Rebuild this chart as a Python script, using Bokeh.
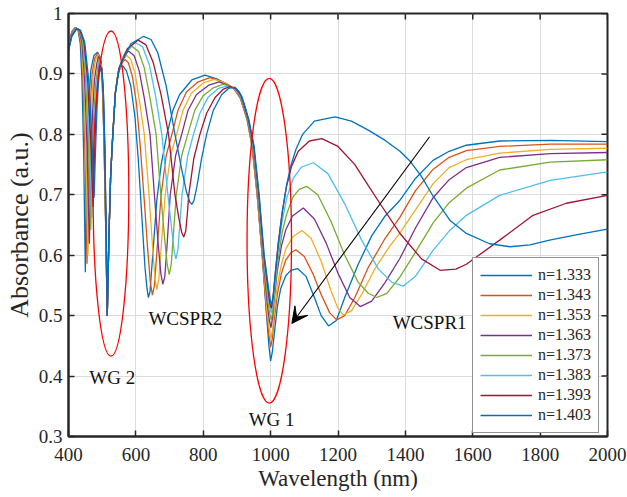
from bokeh.plotting import figure
from bokeh.models import Range1d, FixedTicker, Arrow, VeeHead, Legend, LegendItem
from bokeh.core.properties import value
from bokeh.embed import file_html
from bokeh.resources import INLINE

# ---- absorbance spectra, (wavelength nm, absorbance) per refractive index ----
labels = ["n=1.333", "n=1.343", "n=1.353", "n=1.363",
          "n=1.373", "n=1.383", "n=1.393", "n=1.403"]

pts_1333 = [(400,0.952),(410,0.970),(420,0.977),(428,0.973),(435,0.950),(440,0.890),(445,0.770),(450,0.572),
            (454,0.720),(459,0.840),(466,0.905),(475,0.930),(486,0.936),(494,0.928),(500,0.890),(505,0.800),
            (510,0.660),(515,0.500),(520,0.630),(525,0.730),(530,0.785),(539,0.868),(547,0.900),(555,0.912),
            (562,0.913),(572,0.905),(585,0.880),(597,0.830),(607,0.760),(617,0.670),(627,0.580),(633,0.545),
            (637,0.530),(642,0.540),(650,0.600),(662,0.690),(675,0.750),(692,0.800),(710,0.840),(730,0.866),
            (766,0.890),(805,0.898),(840,0.892),(870,0.883),(890,0.876),(910,0.860),(930,0.825),(945,0.780),
            (960,0.700),(975,0.600),(988,0.500),(995,0.450),(1000,0.425),(1005,0.440),(1010,0.465),(1020,0.515),
            (1030,0.545),(1045,0.566),(1060,0.575),(1080,0.578),(1105,0.565),(1130,0.530),(1150,0.500),(1172,0.483),
            (1195,0.492),(1220,0.530),(1260,0.585),(1300,0.632),(1340,0.665),(1384,0.691),(1430,0.727),(1482,0.757),
            (1530,0.772),(1581,0.782),(1680,0.789),(1830,0.790),(2000,0.788)]

pts_1343 = [(400,0.950),(410,0.969),(421,0.977),(429,0.973),(437,0.950),(443,0.890),(449,0.770),(455,0.586),
            (459,0.720),(464,0.840),(470,0.900),(478,0.926),(487,0.934),(495,0.925),(500,0.890),(505,0.800),
            (510,0.660),(515,0.500),(520,0.630),(525,0.730),(530,0.785),(539,0.868),(547,0.900),(556,0.916),
            (568,0.924),(578,0.918),(590,0.895),(602,0.850),(613,0.780),(625,0.690),(635,0.610),(643,0.555),
            (649,0.534),(655,0.550),(663,0.610),(675,0.700),(690,0.765),(707,0.800),(725,0.840),(750,0.870),
            (785,0.887),(820,0.894),(850,0.889),(875,0.882),(892,0.876),(910,0.860),(930,0.825),(945,0.780),
            (960,0.700),(975,0.600),(988,0.505),(995,0.468),(1000,0.448),(1005,0.462),(1010,0.490),(1020,0.535),
            (1032,0.570),(1045,0.592),(1060,0.604),(1075,0.609),(1100,0.598),(1125,0.570),(1150,0.535),(1175,0.505),
            (1196,0.493),(1220,0.500),(1250,0.530),(1290,0.580),(1340,0.628),(1384,0.663),(1430,0.707),(1482,0.742),
            (1530,0.762),(1581,0.773),(1680,0.780),(1830,0.784),(2000,0.784)]

pts_1353 = [(400,0.948),(410,0.968),(421,0.976),(430,0.973),(438,0.952),(445,0.890),(451,0.780),(458,0.600),
            (462,0.720),(467,0.830),(473,0.895),(480,0.922),(488,0.932),(496,0.922),(501,0.885),(506,0.800),
            (510,0.670),(515,0.500),(520,0.630),(525,0.730),(530,0.785),(539,0.868),(547,0.900),(558,0.920),
            (573,0.931),(585,0.924),(598,0.900),(612,0.850),(625,0.800),(639,0.700),(650,0.610),(657,0.560),
            (662,0.543),(668,0.560),(676,0.620),(687,0.700),(703,0.765),(721,0.800),(740,0.840),(765,0.868),
            (800,0.885),(833,0.891),(860,0.886),(880,0.880),(895,0.874),(912,0.858),(930,0.825),(946,0.780),
            (961,0.700),(976,0.600),(989,0.510),(996,0.478),(1001,0.462),(1006,0.478),(1010,0.505),(1020,0.550),
            (1032,0.585),(1045,0.610),(1065,0.630),(1093,0.641),(1120,0.628),(1150,0.590),(1180,0.540),(1200,0.512),
            (1216,0.501),(1240,0.508),(1270,0.535),(1310,0.578),(1350,0.612),(1384,0.637),(1430,0.675),(1482,0.718),
            (1530,0.745),(1581,0.758),(1680,0.769),(1830,0.775),(2000,0.777)]

pts_1363 = [(400,0.946),(410,0.967),(422,0.976),(431,0.973),(440,0.952),(448,0.890),(455,0.780),(462,0.619),
            (466,0.730),(471,0.830),(477,0.890),(484,0.917),(489,0.929),(497,0.920),(502,0.880),(506,0.800),
            (510,0.670),(515,0.500),(520,0.630),(525,0.730),(530,0.785),(539,0.868),(547,0.902),(560,0.925),
            (578,0.938),(595,0.930),(610,0.905),(625,0.860),(642,0.800),(655,0.700),(666,0.620),(674,0.570),
            (680,0.552),(686,0.565),(693,0.620),(702,0.700),(718,0.765),(736,0.800),(755,0.840),(780,0.866),
            (815,0.881),(847,0.887),(870,0.882),(888,0.877),(900,0.871),(914,0.857),(931,0.825),(947,0.780),
            (962,0.700),(977,0.600),(990,0.520),(996,0.493),(1001,0.480),(1006,0.498),(1010,0.525),(1020,0.575),
            (1032,0.615),(1045,0.642),(1065,0.665),(1097,0.678),(1130,0.660),(1165,0.620),(1200,0.570),(1235,0.530),
            (1266,0.515),(1300,0.524),(1340,0.555),(1384,0.595),(1430,0.645),(1482,0.695),(1530,0.725),(1581,0.745),
            (1680,0.762),(1830,0.768),(2000,0.770)]

pts_1373 = [(400,0.944),(410,0.966),(422,0.976),(432,0.973),(442,0.953),(451,0.890),(459,0.790),(466,0.642),
            (470,0.740),(475,0.830),(481,0.885),(487,0.912),(490,0.924),(498,0.915),(502,0.878),(506,0.800),
            (510,0.670),(515,0.500),(520,0.630),(525,0.730),(530,0.785),(539,0.868),(548,0.905),(565,0.932),
            (588,0.946),(608,0.937),(625,0.910),(642,0.860),(660,0.800),(674,0.700),(685,0.630),(693,0.585),
            (699,0.568),(705,0.585),(712,0.640),(720,0.700),(736,0.765),(754,0.800),(775,0.840),(800,0.864),
            (830,0.877),(860,0.883),(880,0.879),(895,0.874),(905,0.868),(916,0.855),(932,0.825),(948,0.780),
            (963,0.700),(978,0.600),(991,0.528),(997,0.503),(1002,0.493),(1007,0.510),(1012,0.540),(1022,0.592),
            (1034,0.637),(1047,0.667),(1067,0.697),(1085,0.709),(1107,0.714),(1140,0.700),(1180,0.655),(1220,0.600),
            (1260,0.555),(1290,0.537),(1315,0.530),(1345,0.537),(1384,0.564),(1430,0.605),(1482,0.653),(1530,0.687),
            (1581,0.711),(1680,0.741),(1830,0.754),(2000,0.758)]

pts_1383 = [(400,0.942),(410,0.965),(423,0.975),(433,0.972),(444,0.953),(454,0.890),(462,0.790),(469,0.662),
            (473,0.750),(478,0.835),(484,0.885),(491,0.920),(498,0.912),(503,0.875),(507,0.790),(511,0.660),
            (515,0.500),(520,0.630),(525,0.730),(530,0.785),(539,0.868),(549,0.908),(570,0.937),(598,0.952),
            (620,0.945),(640,0.915),(658,0.865),(677,0.800),(695,0.700),(707,0.640),(714,0.605),(719,0.594),
            (725,0.610),(731,0.655),(737,0.700),(754,0.765),(771,0.800),(790,0.835),(815,0.862),(845,0.876),
            (870,0.880),(888,0.877),(900,0.871),(908,0.866),(918,0.853),(933,0.825),(949,0.780),(964,0.700),
            (979,0.600),(992,0.535),(998,0.512),(1002,0.505),(1007,0.520),(1012,0.550),(1022,0.605),(1034,0.655),
            (1047,0.693),(1067,0.727),(1092,0.746),(1127,0.753),(1170,0.735),(1220,0.685),(1270,0.625),(1320,0.577),
            (1360,0.555),(1394,0.549),(1430,0.565),(1482,0.608),(1530,0.640),(1581,0.666),(1680,0.699),(1830,0.724),
            (2000,0.738)]

pts_1393 = [(400,0.940),(410,0.964),(424,0.975),(434,0.972),(446,0.953),(457,0.890),(466,0.790),(473,0.680),
            (477,0.760),(482,0.840),(487,0.885),(492,0.915),(499,0.908),(503,0.872),(507,0.790),(511,0.660),
            (515,0.500),(520,0.630),(525,0.730),(530,0.785),(539,0.868),(550,0.910),(575,0.942),(607,0.956),
            (630,0.948),(652,0.918),(675,0.865),(697,0.800),(716,0.700),(728,0.660),(736,0.638),(742,0.630),
            (748,0.640),(753,0.670),(757,0.700),(772,0.760),(790,0.800),(810,0.835),(835,0.861),(860,0.875),
            (879,0.879),(895,0.876),(905,0.870),(912,0.864),(920,0.851),(934,0.825),(950,0.780),(965,0.700),
            (980,0.600),(993,0.540),(998,0.520),(1002,0.512),(1007,0.530),(1012,0.560),(1022,0.617),(1034,0.670),
            (1047,0.713),(1062,0.747),(1082,0.772),(1115,0.789),(1152,0.793),(1200,0.780),(1250,0.750),(1290,0.715),
            (1324,0.686),(1384,0.636),(1448,0.594),(1503,0.575),(1550,0.577),(1581,0.585),(1680,0.625),(1779,0.666),
            (1878,0.686),(2000,0.699)]

pts_1403 = [(400,0.938),(410,0.962),(425,0.975),(436,0.972),(448,0.953),(460,0.890),(469,0.800),(476,0.695),
            (480,0.770),(485,0.850),(490,0.895),(494,0.910),(500,0.900),(504,0.865),(508,0.780),(512,0.640),
            (515,0.500),(520,0.630),(525,0.730),(530,0.785),(539,0.868),(552,0.912),(585,0.950),(622,0.962),
            (645,0.957),(665,0.935),(690,0.880),(716,0.800),(735,0.745),(750,0.705),(760,0.688),(766,0.684),
            (772,0.690),(781,0.713),(795,0.760),(810,0.800),(830,0.840),(855,0.866),(875,0.876),(894,0.878),
            (905,0.872),(915,0.862),(922,0.850),(935,0.825),(951,0.780),(966,0.700),(981,0.600),(994,0.545),
            (999,0.525),(1003,0.517),(1008,0.535),(1013,0.565),(1023,0.620),(1035,0.672),(1047,0.715),(1060,0.748),
            (1075,0.775),(1095,0.800),(1130,0.822),(1191,0.829),(1240,0.822),(1290,0.807),(1340,0.790),(1384,0.772),
            (1415,0.755),(1448,0.730),(1482,0.698),(1532,0.658),(1581,0.636),(1650,0.619),(1711,0.614),(1770,0.617),
            (1828,0.625),(1910,0.634),(2000,0.643)]

spectra = [pts_1333, pts_1343, pts_1353, pts_1363, pts_1373, pts_1383, pts_1393, pts_1403]

x_ticks = [400, 600, 800, 1000, 1200, 1400, 1600, 1800, 2000]
y_ticks = [0.3, 0.4, 0.5, 0.6, 0.7, 0.8, 0.9, 1.0]
y_tick_text = ["0.3", "0.4", "0.5", "0.6", "0.7", "0.8", "0.9", "1"]

# ---- styling ----
palette = ["#0072BD", "#D95319", "#EDB120", "#7E2F8E",
           "#77AC30", "#4DBEEE", "#A2142F", "#0072BD"]
SERIF = "'Liberation Serif', 'Times New Roman', serif"
AXIS_COLOR = "#262626"

# annotation placement (data coordinates)
ellipse_x = [526, 996]
ellipse_y = [0.702, 0.624]
ellipse_w = [106, 132]
ellipse_h = [0.538, 0.538]
note_text = ["WG 2", "WCSPR2", "WG 1", "WCSPR1"]
note_x = [530, 747, 1003, 1472]
note_y = [0.397, 0.495, 0.328, 0.489]
arrow_from = (1472, 0.796)
arrow_to = (1063, 0.487)

W, H = 627, 497
BL, BR, BT, BB = 68, 20, 13, 61
X0, X1, Y0, Y1 = 400, 2000, 0.3, 1.0
TICK_PX = 6

p = figure(width=W, height=H,
           x_range=Range1d(X0, X1), y_range=Range1d(Y0, Y1),
           output_backend="svg", toolbar_location=None,
           min_border_left=BL, min_border_right=BR,
           min_border_top=BT, min_border_bottom=BB)
p.background_fill_color = "white"
p.border_fill_color = "white"
# closed box around the frame
p.outline_line_color = AXIS_COLOR
p.outline_line_width = 2
p.outline_line_alpha = 1.0

xt = FixedTicker(ticks=x_ticks)
yt = FixedTicker(ticks=y_ticks)

for ax in (p.xaxis[0], p.yaxis[0]):
    ax.axis_line_color = AXIS_COLOR
    ax.axis_line_width = 2
    ax.major_tick_line_color = AXIS_COLOR
    ax.major_tick_line_width = 1.5
    ax.major_tick_in = TICK_PX
    ax.major_tick_out = 0
    ax.minor_tick_line_color = None
    ax.major_label_text_font = SERIF
    ax.major_label_text_color = AXIS_COLOR
    ax.major_label_text_font_size = "19px"
    ax.axis_label_text_font = SERIF
    ax.axis_label_text_font_style = "normal"
    ax.axis_label_text_color = AXIS_COLOR

xaxis = p.xaxis[0]
yaxis = p.yaxis[0]
xaxis.ticker = xt
yaxis.ticker = yt
xaxis.major_label_standoff = 11
xaxis.axis_label = "Wavelength (nm)"
xaxis.axis_label_text_font_size = "23px"
xaxis.axis_label_standoff = 2
yaxis.major_label_standoff = 6
yaxis.major_label_overrides = {t: s for t, s in zip(y_ticks, y_tick_text)}
yaxis.axis_label = "Absorbance (a.u.)"
yaxis.axis_label_text_font_size = "26px"
yaxis.axis_label_standoff = 2

p.xgrid.ticker = xt
p.ygrid.ticker = yt
for g in (p.xgrid[0], p.ygrid[0]):
    g.grid_line_color = "#dcdcdc"
    g.grid_line_width = 1

# inward tick marks on the top and right edges of the box
tick_dx = TICK_PX * (X1 - X0) / (W - BL - BR)
tick_dy = TICK_PX * (Y1 - Y0) / (H - BT - BB)
p.segment(x0=x_ticks, y0=[Y1] * len(x_ticks), x1=x_ticks, y1=[Y1 - tick_dy] * len(x_ticks),
          line_color=AXIS_COLOR, line_width=1.5)
p.segment(x0=[X1] * len(y_ticks), y0=y_ticks, x1=[X1 - tick_dx] * len(y_ticks), y1=y_ticks,
          line_color=AXIS_COLOR, line_width=1.5)

# spectra
items = []
for lbl, pts, col in zip(labels, spectra, palette):
    xs = [q[0] for q in pts]
    ys = [q[1] for q in pts]
    r = p.line(xs, ys, line_color=col, line_width=1.3)
    items.append(LegendItem(label=lbl, renderers=[r]))

# highlighted guided-mode regions
p.ellipse(x=ellipse_x, y=ellipse_y, width=ellipse_w, height=ellipse_h,
          fill_color=None, line_color="#FF0000", line_width=1.3)

# mode labels
p.text(x=note_x, y=note_y, text=note_text,
       text_font=value(SERIF), text_font_size="19px", text_color="#111111",
       text_align="center", text_baseline="middle")

# red-shift arrow
p.add_layout(Arrow(end=VeeHead(size=16, fill_color="black", line_color="black",
                               line_width=1),
                   x_start=arrow_from[0], y_start=arrow_from[1],
                   x_end=arrow_to[0], y_end=arrow_to[1],
                   line_color="black", line_width=1.1))

legend = Legend(items=items, location=(404, 3),
                label_text_font=SERIF, label_text_font_size="16px",
                label_text_color=AXIS_COLOR)
legend.glyph_width = 52
legend.glyph_height = 20
legend.label_height = 20
legend.label_standoff = 6
legend.padding = 7
legend.spacing = 0
legend.margin = 0
legend.border_line_color = AXIS_COLOR
legend.border_line_width = 1
legend.background_fill_color = "white"
legend.background_fill_alpha = 1.0
p.add_layout(legend)

open("out.html", "w").write(file_html(p, INLINE))
